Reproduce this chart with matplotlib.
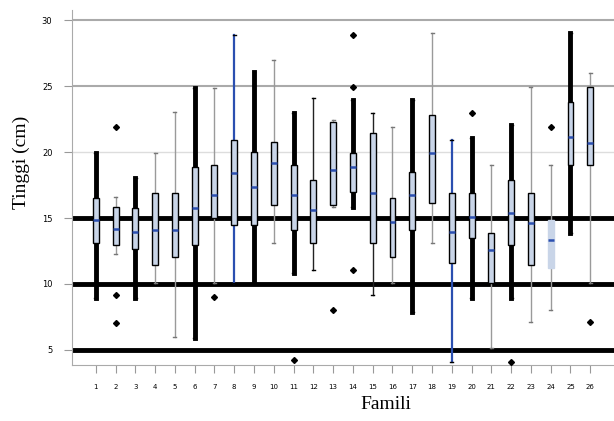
import matplotlib.pyplot as plt

# Tinggi per famili (cm)
famili = [str(i) for i in range(1, 27)]
q1 = [13.11, 12.95, 12.65, 11.44, 12.05, 12.95, 15.00, 14.47, 14.47, 15.98, 14.09, 13.11, 15.98,
      16.97, 13.11, 12.05, 14.09, 16.14, 11.59, 13.48, 10.08, 12.95, 11.44, 11.21, 19.02, 19.02]
med = [14.85, 14.17, 13.94, 14.09, 14.09, 15.76, 16.74, 18.41, 17.35, 19.17, 16.74, 15.61, 18.64,
       18.86, 16.89, 14.70, 16.74, 19.92, 13.94, 15.08, 12.58, 15.38, 14.62, 13.33, 21.14, 20.68]
q3 = [16.52, 15.83, 15.76, 16.89, 16.89, 18.86, 19.02, 20.91, 20.00, 20.76, 19.02, 17.88, 22.30,
      19.92, 21.44, 16.52, 18.48, 22.80, 16.89, 16.89, 13.86, 17.88, 16.89, 14.85, 23.79, 24.92]
wlo = [8.94, 12.30, 8.94, 10.08, 5.98, 5.91, 10.08, 10.08, 10.08, 13.11, 10.83, 11.06, 15.83,
       15.83, 9.17, 10.08, 7.88, 13.11, 4.10, 8.94, 5.15, 8.94, 7.12, 8.03, 13.86, 10.08]
whi = [19.92, 16.60, 18.03, 19.92, 23.03, 24.85, 24.85, 28.86, 26.06, 26.97, 22.96, 24.09, 22.42,
       23.94, 22.96, 21.89, 23.94, 29.02, 20.91, 21.06, 19.02, 22.05, 24.92, 19.02, 29.02, 25.98]
outliers = {2: [21.89, 9.17, 7.05], 7: [9.02], 11: [4.24], 13: [8.03], 14: [28.86, 24.92, 11.06],
            20: [22.96], 22: [4.10], 24: [21.89], 26: [7.12]}
# gaya garis whisker tiap famili
gaya = ['tebal', 'abu', 'tebal', 'abu', 'abu', 'tebal', 'abu', 'biru', 'tebal', 'abu', 'tebal', 'hitam', 'abu',
        'tebal', 'hitam', 'abu', 'tebal', 'abu', 'biru', 'tebal', 'abu', 'tebal', 'abu', 'abu', 'tebal', 'abu']

styles = {'tebal': dict(color='black', lw=3.5), 'abu': dict(color='#9a9a9a', lw=1.0),
          'biru': dict(color='#2b4fb0', lw=1.6), 'hitam': dict(color='#222222', lw=1.0)}

stats = []
for i in range(len(famili)):
    stats.append({'q1': q1[i], 'med': med[i], 'q3': q3[i], 'whislo': wlo[i], 'whishi': whi[i],
                  'fliers': outliers.get(i + 1, []), 'label': famili[i]})

fig = plt.figure(figsize=(6.14, 4.21), dpi=100)
ax = fig.add_axes([0.117, 0.133, 0.883, 0.843])

# garis horizontal
for yv, c, w in [(5, 'black', 3.5), (10, 'black', 3.5), (15, 'black', 3.5),
                 (20, '#dddddd', 1.0), (25, '#aaaaaa', 1.5), (30, '#aaaaaa', 1.5)]:
    ax.axhline(yv, color=c, lw=w, zorder=1)

bp = ax.bxp(stats, positions=range(1, 27), widths=0.3, patch_artist=True,
            flierprops=dict(marker='D', markersize=3, markerfacecolor='black', markeredgecolor='black'),
            medianprops=dict(color='#2b4fb0', lw=1.8),
            boxprops=dict(facecolor='#c9d5e8', edgecolor='black', lw=1.0),
            zorder=3)
for i, g in enumerate(gaya):
    for ln in bp['whiskers'][2 * i:2 * i + 2]:
        ln.set_color(styles[g]['color'])
        ln.set_linewidth(styles[g]['lw'])
        ln.set_zorder(2)
    for ln in bp['caps'][2 * i:2 * i + 2]:
        ln.set_color('black' if g != 'abu' else '#777777')
        ln.set_linewidth(1.0)
for m in bp['medians']:
    m.set_zorder(4)
bp['boxes'][23].set_edgecolor('#c9d5e8')

ax.set_xlim(-0.21, 27.2)
ax.set_ylim(3.86, 30.76)
ax.set_yticks([5, 10, 15, 20, 25, 30])
ax.tick_params(axis='y', labelsize=6, length=6, pad=8, color='#999999')
ax.tick_params(axis='x', labelsize=5, length=6, pad=8, color='#999999')
for s in ['top', 'right']:
    ax.spines[s].set_visible(False)
for s in ['left', 'bottom']:
    ax.spines[s].set_color('#aaaaaa')

ax.set_ylabel('Tinggi (cm)', family='Liberation Serif', fontsize=14)
ax.set_xlabel('Famili', family='Liberation Serif', fontsize=14)
ax.yaxis.set_label_coords(-0.078, 0.57)
ax.xaxis.set_label_coords(0.58, -0.088)

fig.savefig('out.png', dpi=100)
